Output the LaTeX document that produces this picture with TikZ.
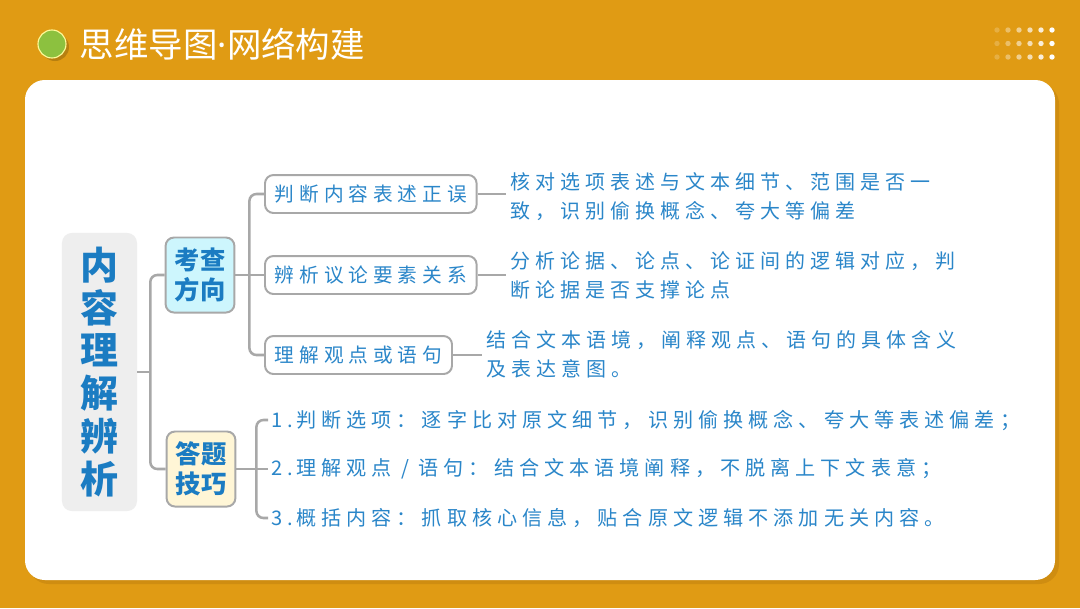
\documentclass[tikz,border=0pt]{standalone}
\usepackage{fontspec}
\setmainfont{Noto Sans CJK SC}
\newfontfamily\cjkspaced{Noto Sans CJK SC}[LetterSpace=25]
\newfontfamily\latinsans{Noto Sans}
\usepackage{xcolor}
\usetikzlibrary{positioning,calc}

\definecolor{bgorange}{HTML}{E09B14}
\definecolor{shadeorange}{HTML}{C58410}
\definecolor{textblue}{HTML}{2A86C9}
\definecolor{rootblue}{HTML}{1B7CC2}
\definecolor{linegray}{HTML}{A8A8A8}
\definecolor{rootgray}{HTML}{EEEEEE}
\definecolor{kcfill}{HTML}{CDF6FD}
\definecolor{jqfill}{HTML}{FFF6D6}
\definecolor{dotgreen}{HTML}{8CC13F}

\tikzset{
  link/.style={draw=linegray, line width=1.8pt, rounded corners=5pt},
  rootbox/.style={fill=rootgray, rounded corners=7pt, minimum width=1.875cm,
    minimum height=6.95cm, align=center, text=rootblue,
    font=\bfseries\fontsize{27}{30.5}\selectfont},
  topicbox/.style={draw=linegray, line width=1.4pt, rounded corners=6pt,
    minimum width=1.72cm, minimum height=1.875cm, align=center, text=rootblue,
    font=\bfseries\fontsize{18}{21.5}\selectfont},
  itembox/.style={draw=linegray, line width=1.4pt, fill=white, rounded corners=6pt,
    minimum height=27pt, inner xsep=7pt, text=textblue,
    font=\cjkspaced\fontsize{14}{20.5}\selectfont},
  desc/.style={anchor=west, align=left, text=textblue,
    font=\cjkspaced\fontsize{14.2}{20.5}\selectfont},
  tip/.style={anchor=west, inner sep=2pt, text=textblue,
    font=\cjkspaced\fontsize{14.3}{20.5}\selectfont}
}

\begin{document}
\begin{tikzpicture}[x=0.025cm, y=-0.025cm]
    \useasboundingbox (0,0) rectangle (1080,608);

    % Achtergrond
    \fill[bgorange] (0,0) rectangle (1080,608);
    \fill[shadeorange, opacity=0.6, rounded corners=14pt] (29,84) rectangle (1059,584);
    \fill[white, rounded corners=14pt] (25,80) rectangle (1055,580);

    % Titel
    \fill[black, opacity=0.18] (55,47) circle[radius=14];
    \draw[draw=yellow!40, fill=dotgreen, line width=0.8pt] (52,44) circle[radius=14];
    \node[anchor=west, text=white, font=\fontsize{24.5}{24.5}\selectfont] (title) at (75,44) {思维导图{\latinsans·}网络构建};

    % Stippen
    \foreach \col in {0,...,5}
      \foreach \row in {0,1,2}
        \fill[white, opacity={0.2+0.16*\col}] (997+11*\col, 30+13.5*\row) circle[radius=2.7];

    % Wortel en takken
    \node[rootbox] (root) at (99.5,372) {内\\容\\理\\解\\辨\\析};
    \node[topicbox, fill=kcfill] (kc) at (200,275) {考查\\方向};
    \node[topicbox, fill=jqfill] (jq) at (201,469) {答题\\技巧};

    % Examenrichting
    \node[itembox, anchor=west] (b1) at (264,194) {判断内容表述正误};
    \node[itembox, anchor=west] (b2) at (264,275) {辨析议论要素关系};
    \node[itembox, anchor=west] (b3) at (264,355) {理解观点或语句};

    \node[desc] (d1) at (506,197) {核对选项表述与文本细节、范围是否一\\致，识别偷换概念、夸大等偏差};
    \node[desc] (d2) at (506,275) {分析论据、论点、论证间的逻辑对应，判\\断论据是否支撑论点};
    \node[desc] (d3) at (482,354) {结合文本语境，阐释观点、语句的具体含义\\及表达意图。};

    % Antwoordtechniek
    \node[tip] (t1) at (268,420) {1.\,判断选项：逐字比对原文细节，识别偷换概念、夸大等表述偏差；};
    \node[tip] (t2) at (268,469) {2.\,理解观点 / 语句：结合文本语境阐释，不脱离上下文表意；};
    \node[tip] (t3) at (268,518) {3.\,概括内容：抓取核心信息，贴合原文逻辑不添加无关内容。};

    % Verbindingen
    \coordinate (rj) at ($(root.east)+(13,0)$);
    \draw[link] (kc.west) -| (rj) |- (jq.west);
    \draw[link] (root.east) -- (rj);

    \coordinate (kj) at ($(kc.east)+(14,0)$);
    \draw[link] (b1.west) -| (kj) |- (b3.west);
    \draw[link] (kc.east) -- (b2.west);

    \draw[link] (b1.east) -- (b1.east -| d1.west);
    \draw[link] (b2.east) -- (b2.east -| d2.west);
    \draw[link] (b3.east) -- (b3.east -| d3.west);

    \coordinate (aj) at ($(jq.east)+(20,0)$);
    \draw[link] (t1.west) -| (aj) |- (t3.west);
    \draw[link] (jq.east) -- (t2.west);
\end{tikzpicture}
\end{document}
